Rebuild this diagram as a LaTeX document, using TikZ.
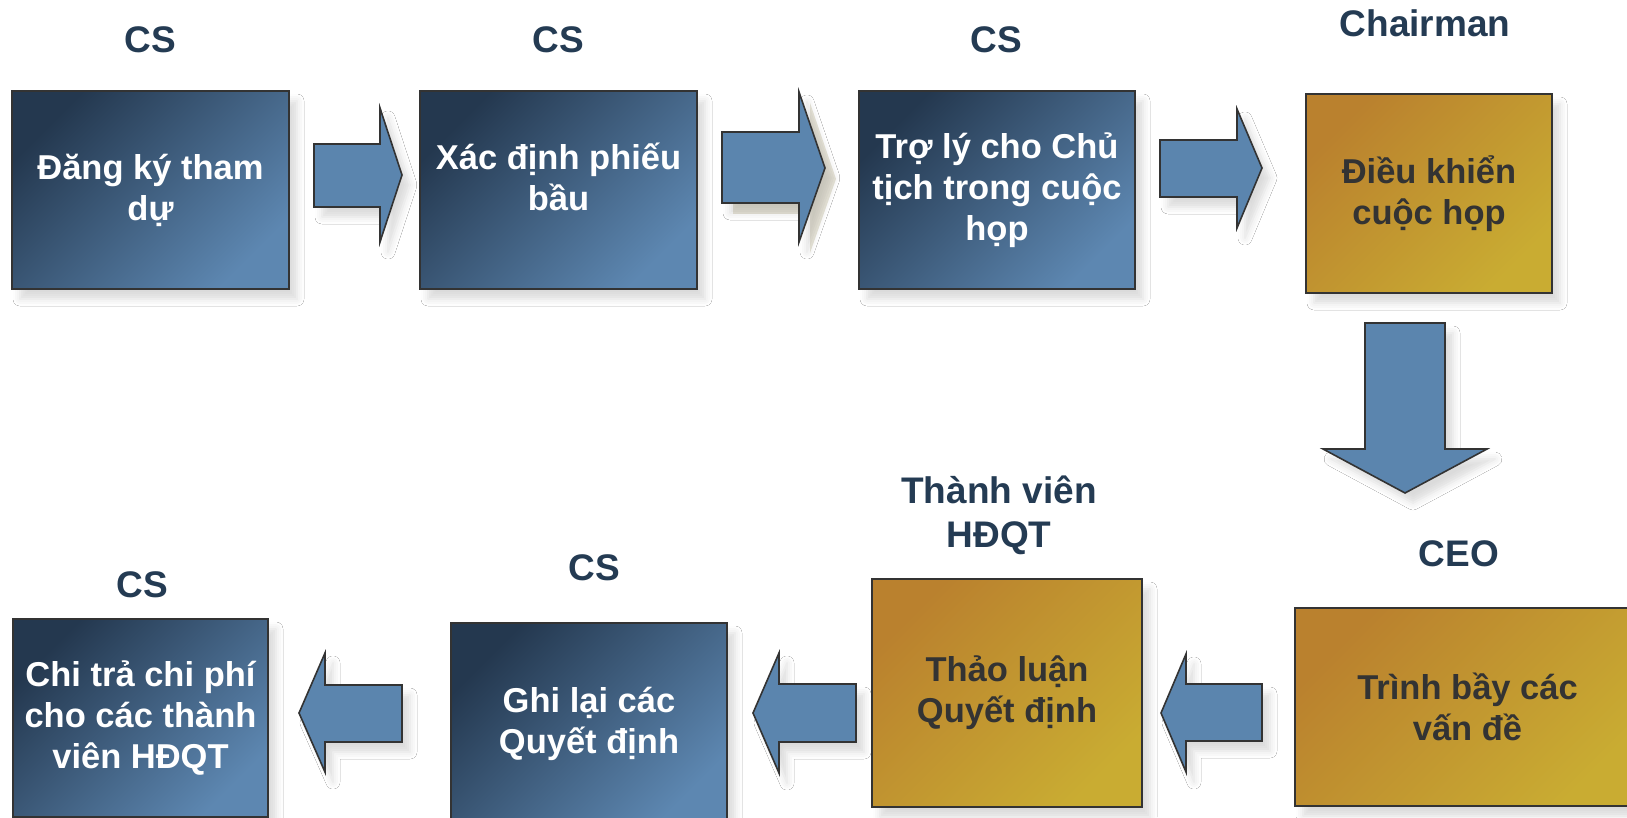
\documentclass[tikz,border=0pt]{standalone}
\usepackage{fontspec}
\setmainfont{Liberation Sans}
\usetikzlibrary{shadows.blur}
\definecolor{navy}{RGB}{36,59,83}
\definecolor{bdark}{RGB}{36,56,79}
\definecolor{blight}{RGB}{93,135,177}
\definecolor{gdark}{RGB}{186,129,46}
\definecolor{glight}{RGB}{201,172,50}
\definecolor{arrowfill}{RGB}{91,133,174}
\definecolor{edge}{RGB}{51,51,51}
\definecolor{gtext}{RGB}{51,51,51}
\definecolor{beige}{RGB}{233,230,218}
\tikzset{
  softshadow/.style={blur shadow={shadow xshift=8pt, shadow yshift=-10pt, shadow blur radius=7pt, shadow opacity=14}},
  box/.style={draw=edge, line width=2pt, inner sep=0pt, align=center,
    font=\fontsize{34.5}{41}\selectfont\bfseries, softshadow},
  bluebox/.style={box, top color=bdark, bottom color=blight, shading angle=45, text=white},
  goldbox/.style={box, top color=gdark, bottom color=glight, shading angle=45, text=gtext},
  role/.style={font=\fontsize{37}{44}\selectfont\bfseries, text=navy, align=center, inner sep=0pt},
  blockarrow/.style={draw=edge, line width=1.6pt, fill=arrowfill, line join=miter, softshadow},
}
\begin{document}
\begin{tikzpicture}[x=1pt,y=-1pt]
\useasboundingbox (0,0) rectangle (1627,818);
\clip (0,0) rectangle (1627,818);
\fill[white] (0,0) rectangle (1627,818);

% role labels
\node[role] (r1) at (150,40) {CS};
\node[role] (r2) at (558,40) {CS};
\node[role] (r3) at (996,40) {CS};
\node[role] (r4) at (1425,23) {Chairman};
\node[role] (r5) at (1459,554) {CEO};
\node[role] (r6) at (999,515) {Thành viên\\HĐQT};
\node[role] (r7) at (594,568) {CS};
\node[role] (r8) at (142,585) {CS};

% boxes
\node[bluebox, minimum width=277, minimum height=198] (b1) at (150.5,190) {Đăng ký tham\\dự};
\node[bluebox, minimum width=277, minimum height=198] (b2) at (558.5,190) {};
\node[text=white, align=center, font=\fontsize{34.5}{41}\selectfont\bfseries, inner sep=0pt] (t2) at ([yshift=13pt]b2.center) {Xác định phiếu\\bầu};
\node[bluebox, minimum width=276, minimum height=198] (b3) at (997,190) {Trợ lý cho Chủ\\tịch trong cuộc\\họp};
\node[goldbox, minimum width=246, minimum height=199] (b4) at (1429,193.5) {Điều khiển\\cuộc họp};
\node[goldbox, minimum width=345, minimum height=198] (b5) at (1467.5,707) {Trình bầy các\\vấn đề};
\node[goldbox, minimum width=270, minimum height=228] (b6) at (1007,693) {Thảo luận\\Quyết định};
\node[bluebox, minimum width=276, minimum height=202] (b7) at (589,724) {Ghi lại các\\Quyết định};
\node[bluebox, minimum width=255, minimum height=198] (b8) at (140.5,718) {Chi trả chi phí\\cho các thành\\viên HĐQT};

% block arrows, top row
\draw[blockarrow] (314,144) -- (380,144) -- (380,108) -- (402,175) -- (380,242) -- (380,207) -- (314,207) -- cycle;
\fill[beige] (733,143) -- (810,143) -- (810,103) -- (836,179) -- (810,253) -- (810,214) -- (733,214) -- cycle;
\draw[blockarrow] (722,132) -- (799,132) -- (799,92) -- (825,168) -- (799,242) -- (799,203) -- (722,203) -- cycle;
\draw[blockarrow] (1160,140) -- (1237,140) -- (1237,109) -- (1262,168) -- (1237,228) -- (1237,197) -- (1160,197) -- cycle;

% down arrow
\draw[blockarrow] (1365,323) -- (1445,323) -- (1445,449) -- (1487,449) -- (1405,493) -- (1323,449) -- (1365,449) -- cycle;

% block arrows, bottom row
\draw[blockarrow] (1262,684) -- (1186,684) -- (1186,654) -- (1161,713) -- (1186,772) -- (1186,741) -- (1262,741) -- cycle;
\draw[blockarrow] (856,684) -- (779,684) -- (779,653) -- (753,713) -- (779,773) -- (779,742) -- (856,742) -- cycle;
\draw[blockarrow] (402,685) -- (325,685) -- (325,653) -- (299,713) -- (325,772) -- (325,742) -- (402,742) -- cycle;
\end{tikzpicture}
\end{document}
